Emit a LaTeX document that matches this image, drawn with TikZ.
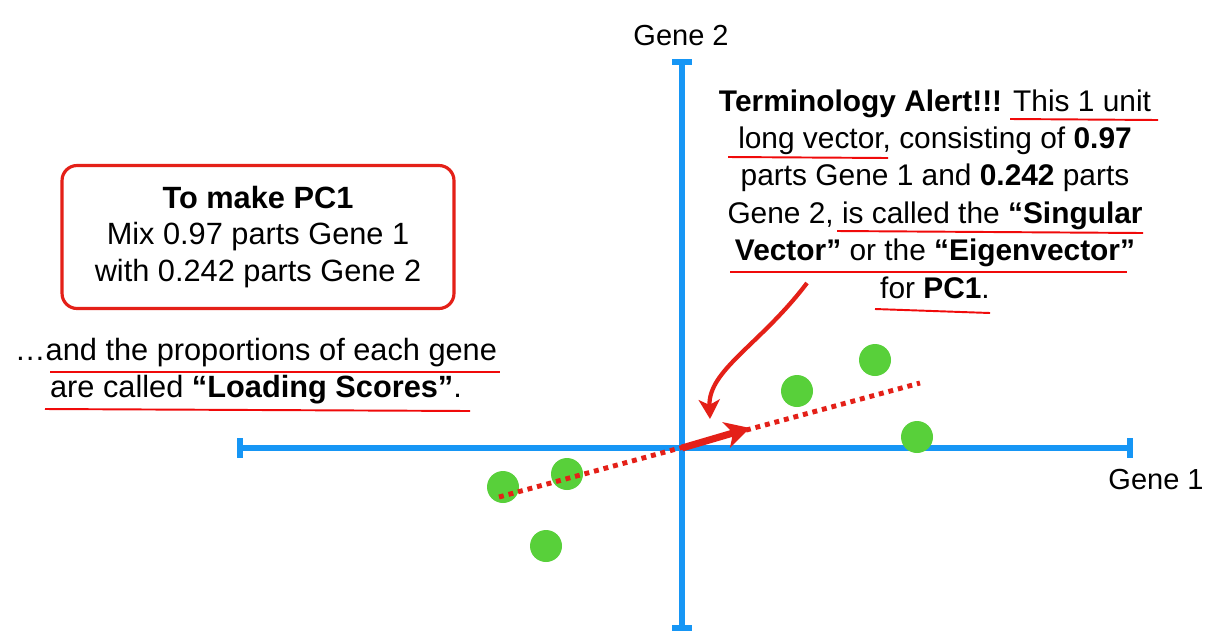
\documentclass[tikz,border=0pt]{standalone}
\usepackage{fontspec}
\setmainfont{Liberation Sans}
\usepackage{xcolor}
\usetikzlibrary{arrows.meta}
\definecolor{axisblue}{RGB}{22,150,245}
\definecolor{dotgreen}{RGB}{88,208,58}
\definecolor{pcred}{RGB}{228,32,24}
\definecolor{ulred}{RGB}{240,10,10}

\begin{document}
\begin{tikzpicture}[x=0.02cm, y=-0.02cm,
  axis/.style={axisblue, line width=2.9pt},
  dot/.style={circle, fill=dotgreen, minimum size=0.64cm, inner sep=0pt},
  uline/.style={ulred, line width=1.1pt},
  txt/.style={font=\fontsize{17}{21.3}\selectfont, align=center, inner sep=0pt}]
  \useasboundingbox (0,0) rectangle (1209,640);
  \fill[white] (0,0) rectangle (1209,640);
  % axes
  \draw[axis] (240,448) -- (1130,448);
  \draw[axis] (240,438) -- (240,458);
  \draw[axis] (1130,438) -- (1130,458);
  \draw[axis] (682,62) -- (682,628);
  \draw[axis] (672,62) -- (692,62);
  \draw[axis] (672,628) -- (692,628);
  \coordinate (origin) at (682,448);
  \node[txt, font=\fontsize{16.5}{20}\selectfont] (gene2) at (681,36) {Gene 2};
  \node[txt, font=\fontsize{16.5}{20}\selectfont] (gene1) at (1156,480) {Gene 1};
  % data
  \node[dot] (p1) at (503,487) {};
  \node[dot] (p2) at (567,474) {};
  \node[dot] (p3) at (546,546) {};
  \node[dot] (p4) at (797,391) {};
  \node[dot] (p5) at (875,360) {};
  \node[dot] (p6) at (917,437) {};
  % PC1 line and singular vector
  \coordinate (pcstart) at (499,497);
  \coordinate (pcend) at (920,383);
  \coordinate (vtip) at (750,428);
  \draw[pcred, line width=2.8pt, dash pattern=on 2.8pt off 2.8pt] (pcstart) -- (pcend);
  \draw[pcred, line width=4pt, -{Stealth[length=14pt, width=15pt, inset=4pt]}] (origin) -- (vtip);
  % boxes of text
  \node[txt, font=\fontsize{17.5}{20.8}\selectfont, draw=pcred, line width=1.8pt, rounded corners=0.3cm, minimum width=7.84cm, minimum height=2.86cm] (recipe) at (258,237)
    {{\bfseries To make PC1}\\Mix 0.97 parts Gene 1\\with 0.242 parts Gene 2};
  \node[txt, font=\fontsize{17.5}{21}\selectfont] (loading) at (256,371)
    {…and the proportions of each gene\\are called {\bfseries “Loading Scores”}.};
  \node[txt] (alert) at (935,194)
    {{\bfseries Terminology Alert!!!} This 1 unit\\
     long vector, consisting of {\bfseries 0.97}\\
     parts Gene 1 and {\bfseries 0.242} parts\\
     Gene 2, is called the {\bfseries “Singular}\\
     {\bfseries Vector”} or the {\bfseries “Eigenvector”}\\
     for {\bfseries PC1}.};
  % underlines
  \draw[uline] (1010,119) -- (1158,120);
  \draw[uline] (728,157) -- (888,158);
  \draw[uline] (837,231) -- (1143,233);
  \draw[uline] (730,272) -- (1127,272);
  \draw[uline] (875,309) -- (990,313);
  \draw[uline] (50,372) -- (500,372);
  \draw[uline] (45,409) -- (470,411);
  % pointer
  \coordinate (ptail) at (807,283);
  \coordinate (phead) at (710,419);
  \draw[pcred, line width=2.4pt, -{Stealth[length=11pt, width=12pt, inset=3pt]}] (ptail) .. controls (760,345) and (708,370) .. (phead);
\end{tikzpicture}
\end{document}
